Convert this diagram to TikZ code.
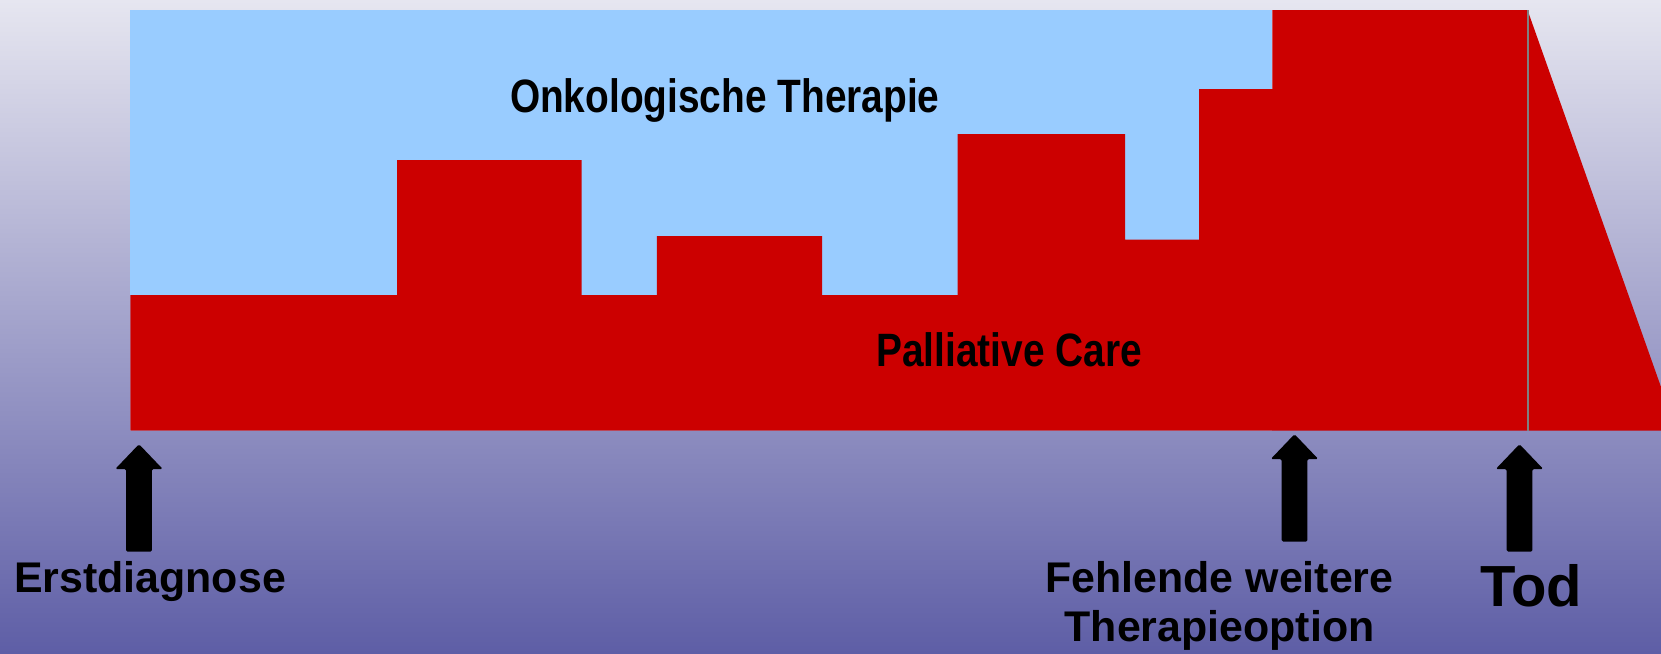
\documentclass[tikz,border=0pt]{standalone}
\usepackage{fontspec}
\setmainfont{Liberation Sans}
\newfontfamily\condfont[FakeStretch=0.83]{Liberation Sans}
\definecolor{bgtop}{RGB}{230,230,240}
\definecolor{bgbot}{RGB}{94,94,166}
\definecolor{pcred}{RGB}{204,0,0}
\definecolor{onkblue}{RGB}{153,204,255}
\tikzset{
  chartlabel/.style={anchor=base, inner sep=0pt, font=\condfont\bfseries\fontsize{46.8}{46.8}\selectfont},
  eventlabel/.style={anchor=base, inner sep=0pt, font=\bfseries\fontsize{42.9}{42.9}\selectfont},
  blockarrow/.pic={\fill[black, rounded corners=1.5pt] (-12.8,0) -- (-12.8,-82.7) -- (-23.7,-82.7) -- (0,-107.5) -- (23.7,-82.7) -- (12.8,-82.7) -- (12.8,0) -- cycle;}
}
\begin{document}
\begin{tikzpicture}[x=1pt,y=-1pt]
\useasboundingbox (0,0) rectangle (1661,653);
\shade[top color=bgtop, bottom color=bgbot] (0,0) rectangle (1661,653);
% oncological therapy area
\fill[onkblue] (130.3,10) rectangle (1272.3,430.7);
% palliative care area
\fill[pcred] (130.3,430.7) -- (130.3,295) -- (397.2,295) -- (397.2,160) -- (581.5,160) -- (581.5,295)
  -- (656.8,295) -- (656.8,236) -- (822,236) -- (822,295) -- (957.6,295) -- (957.6,134)
  -- (1125,134) -- (1125,239.7) -- (1199,239.7) -- (1199,89) -- (1272.3,89) -- (1272.3,10)
  -- (1527.5,10) -- (1527.5,430.7) -- cycle;
% after death
\fill[pcred] (1527.5,10) -- (1661,387) -- (1661,430.7) -- (1527.5,430.7) -- cycle;
\draw[gray, line width=2pt] (1527.5,10) -- (1527.5,430.7);
% labels
\node[chartlabel] (onk) at (724.8,112) {Onkologische Therapie};
\node[chartlabel] (pc) at (1009,366.7) {Palliative Care};
% events
\coordinate (erstA) at (139,551.7);
\coordinate (fehlA) at (1294.5,541.7);
\coordinate (todA) at (1519.5,551.7);
\pic at (erstA) {blockarrow};
\pic at (fehlA) {blockarrow};
\pic at (todA) {blockarrow};
\node[eventlabel] (erst) at (150,592.3) {Erstdiagnose};
\node[eventlabel] (fehl1) at (1219.5,592.3) {Fehlende weitere};
\node[eventlabel] (fehl2) at (1219.5,641.7) {Therapieoption};
\node[anchor=base, inner sep=0pt, font=\bfseries\fontsize{58}{58}\selectfont] (tod) at (1531,606.7) {Tod};
\end{tikzpicture}
\end{document}
